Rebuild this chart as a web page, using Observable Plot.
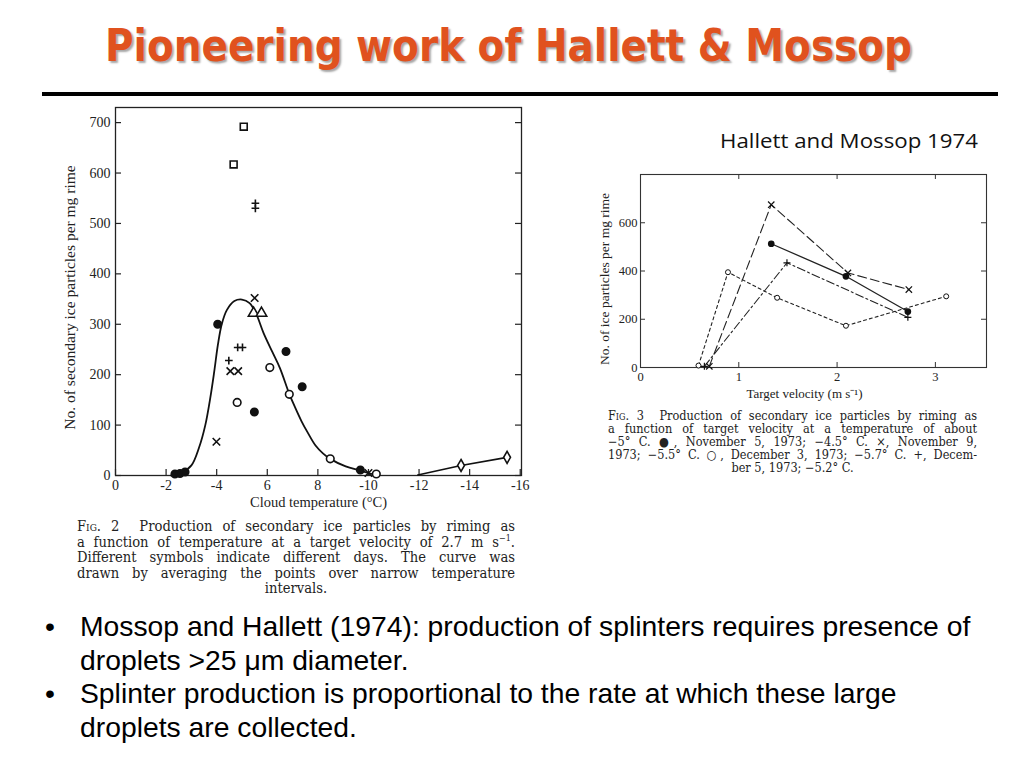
<!DOCTYPE html>
<html>
<head>
<meta charset="utf-8">
<script src="https://cdn.jsdelivr.net/npm/d3@7"></script>
<script src="https://cdn.jsdelivr.net/npm/@observablehq/plot@0.6"></script>
<style>
  html, body { margin: 0; padding: 0; background: #fff; }
  #page { position: relative; width: 1024px; height: 768px; overflow: hidden; background: #fff; }
  .abs { position: absolute; }
  #title { left: 105px; top: 18px; white-space: nowrap; font-family: "Comic Sans MS", "DejaVu Sans Condensed", "DejaVu Sans", sans-serif;
           font-weight: bold; font-size: 45px; color: #E0521E; text-shadow: 2px 2px 2px rgba(0,0,0,0.35); transform-origin: 0 0; line-height: 56px; }
  #rule { left: 42px; top: 92px; width: 956px; height: 4px; background: #000; }
  #ref { left: 720px; top: 126px; font-family: "Open Sans", sans-serif; font-size: 20.5px; white-space: nowrap; color: #111; transform-origin: 0 0; }
  .cap { font-family: "DejaVu Serif Condensed", "DejaVu Serif", serif; color: #222; }
  .cap div { text-align: justify; text-align-last: justify; white-space: nowrap; }
  .cap div.last { text-align: center; text-align-last: center; }
  .sc { font-variant: small-caps; }
  #cap2 { left: 77px; top: 518px; width: 438px; font-size: 14.6px; line-height: 15.5px; }
  #cap3 { left: 608px; top: 409px; width: 369px; font-size: 12.6px; line-height: 13px; }
  #bul { left: 45px; top: 610px; font-family: "Liberation Sans", Arial, sans-serif; font-size: 28.3px; line-height: 33.7px; color: #000; white-space: nowrap; }
  .item { position: relative; padding-left: 35px; }
  .item .dot { position: absolute; left: 0; top: 0; }
  #fig2 { left: 60px; top: 100px; }
  #fig3 { left: 590px; top: 165px; }
</style>
</head>
<body>
<div id="page">
  <div id="title" class="abs">Pioneering work of Hallett &amp; Mossop</div>
  <div id="rule" class="abs"></div>
  <div id="ref" class="abs">Hallett and Mossop 1974</div>
  <div id="fig2" class="abs"></div>
  <div id="fig3" class="abs"></div>
  <div id="cap2" class="abs cap">
    <div><span class="sc">Fig.</span> 2&nbsp; Production of secondary ice particles by riming as</div>
    <div>a function of temperature at a target velocity of 2.7 m s<sup style="font-size:9px;line-height:0">−1</sup>.</div>
    <div>Different symbols indicate different days. The curve was</div>
    <div>drawn by averaging the points over narrow temperature</div>
    <div class="last">intervals.</div>
  </div>
  <div id="cap3" class="abs cap">
    <div><span class="sc">Fig.</span> 3&nbsp; Production of secondary ice particles by riming as</div>
    <div>a function of target velocity at a temperature of about</div>
    <div>−5° C. ●, November 5, 1973; −4.5° C. ×, November 9,</div>
    <div>1973; −5.5° C. ○, December 3, 1973; −5.7° C. +, Decem-</div>
    <div class="last">ber 5, 1973; −5.2° C.</div>
  </div>
  <div id="bul" class="abs">
    <div class="item"><span class="dot">•</span>Mossop and Hallett (1974): production of splinters requires presence of<br>droplets &gt;25 μm diameter.</div>
    <div class="item"><span class="dot">•</span>Splinter production is proportional to the rate at which these large<br>droplets are collected.</div>
  </div>
</div>
<script>
// ---------- Fig. 2 data: x = |cloud temperature| (°C), y = secondary ice particles per mg rime ----------
const fig2TickValues = [0, 2, 4, 6, 8, 10, 12, 14, 16];
const fig2TickLabels = ["0", "-2", "-4", "6", "8", "-10", "-12", "-14", "-16"];
const fig2YTicks = [0, 100, 200, 300, 400, 500, 600, 700];

const filledT = [2.35, 2.55, 2.75, 4.04, 5.49, 6.74, 7.38, 9.68];
const filledN = [3, 4, 7, 300, 126, 246, 176, 11];
const openT = [4.81, 6.10, 6.87, 8.49, 10.31];
const openN = [145, 214, 161, 33, 3];
const crossT = [3.99, 4.54, 4.85, 5.50, 10.0];
const crossN = [67, 207, 207, 352, 5];
const plusT = [4.48, 4.83, 5.02, 5.53, 5.53];
const plusN = [228, 254, 254, 530, 540];
const squareT = [4.67, 5.07];
const squareN = [617, 692];
const triangleT = [5.46, 5.77];
const triangleN = [322, 322];
const diamondT = [13.66, 15.48];
const diamondN = [20, 36];
const curveT = [2.2, 2.6, 3.0, 3.3, 3.55, 3.75, 3.9, 4.05, 4.2, 4.4, 4.7, 5.0, 5.3, 5.55, 5.85, 6.2, 6.5, 6.87, 7.1, 7.35, 7.6, 7.9, 8.2, 8.49, 9.1, 9.65, 10.2];
const curveN = [0, 5, 20, 55, 100, 155, 205, 260, 300, 328, 346, 349, 342, 322, 283, 245, 213, 162, 135, 108, 85, 60, 44, 33, 18, 10, 2];
const tailT = [11.95, 13.66, 15.48];
const tailN = [1, 20, 36];

// ---------- Fig. 3 data: x = target velocity (m/s), y = ice particles per mg rime ----------
const fig3XTicks = [0, 1, 2, 3];
const fig3YTicks = [0, 200, 400, 600];
const nov5V = [1.33, 2.09, 2.72];
const nov5N = [513, 378, 232];
const nov9V = [0.70, 1.33, 2.11, 2.73];
const nov9N = [5, 675, 392, 323];
const dec3V = [0.59, 0.89, 1.39, 2.09, 3.11];
const dec3N = [8, 395, 289, 173, 295];
const dec5V = [0.65, 1.49, 2.72];
const dec5N = [5, 434, 208];

const zip = (xs, ys) => xs.map((x, i) => ({x, y: ys[i]}));

// ---------- Fig. 2 ----------
{
  const W = 470, H = 420, mL = 55, mR = 9, mT = 7, mB = 45;
  const fw = W - mL - mR, fh = H - mT - mB;
  const tk = 6;
  const sym = (xs, ys, symbol, extra) => Plot.dot(zip(xs, ys), {x: "x", y: "y", symbol, stroke: "#111", strokeWidth: 1.6, ...extra});
  const chart = Plot.plot({
    width: W, height: H, marginLeft: mL, marginRight: mR, marginTop: mT, marginBottom: mB,
    x: {domain: [0, 16.05]},
    y: {domain: [0, 730]},
    style: {fontFamily: "Liberation Serif, serif", fontSize: "14px", color: "#222", background: "transparent", overflow: "visible"},
    marks: [
      Plot.frame({stroke: "#222", strokeWidth: 1.3}),
      Plot.tickX(fig2TickValues, {x: d => d, insetTop: fh - tk, stroke: "#222", strokeWidth: 1.2}),
      Plot.tickY(fig2YTicks, {y: d => d, insetRight: fw - tk, stroke: "#222", strokeWidth: 1.2}),
      Plot.tickY(fig2YTicks, {y: d => d, insetLeft: fw - tk, stroke: "#222", strokeWidth: 1.2}),
      Plot.axisX(fig2TickValues, {tickSize: 0, tickPadding: 5, label: null, fontSize: 14,
        tickFormat: d => fig2TickLabels[fig2TickValues.indexOf(d)]}),
      Plot.axisY(fig2YTicks, {tickSize: 0, tickPadding: 5, label: null, fontSize: 14}),
      Plot.text(["Cloud temperature (°C)"], {text: d => d, frameAnchor: "bottom", lineAnchor: "middle", dy: 27, fontSize: 14.5}),
      Plot.text(["No. of secondary ice particles per mg rime"], {text: d => d, frameAnchor: "left", textAnchor: "middle", lineAnchor: "middle", dx: -45, dy: 6, rotate: -90, fontSize: 15.5}),
      Plot.line(zip(curveT, curveN), {x: "x", y: "y", curve: "catmull-rom", stroke: "#111", strokeWidth: 1.8}),
      Plot.line(zip(tailT, tailN), {x: "x", y: "y", stroke: "#111", strokeWidth: 1.6}),
      sym(filledT, filledN, "circle", {r: 3.7, fill: "#111"}),
      sym(openT, openN, "circle", {r: 3.8, fill: "white"}),
      sym(crossT, crossN, "times", {r: 3.5}),
      sym(plusT, plusN, "plus", {r: 2.6}),
      sym(squareT, squareN, "square2", {r: 4.4}),
      sym(triangleT, triangleN, "triangle", {r: 3.9, fill: "white"}),
      sym(diamondT, diamondN, "diamond", {r: 3.6, fill: "white"})
    ]
  });
  document.getElementById("fig2").appendChild(chart);
}

// ---------- Fig. 3 ----------
{
  const W = 410, H = 235, mL = 50, mR = 14, mT = 9, mB = 33;
  const fw = W - mL - mR, fh = H - mT - mB;
  const tk = 5;
  const inner = [1, 2, 3];
  const innerY = [200, 400, 600];
  const chart = Plot.plot({
    width: W, height: H, marginLeft: mL, marginRight: mR, marginTop: mT, marginBottom: mB,
    x: {domain: [0, 3.52]},
    y: {domain: [0, 800]},
    style: {fontFamily: "Liberation Serif, serif", fontSize: "12.5px", color: "#222", background: "transparent", overflow: "visible"},
    marks: [
      Plot.frame({stroke: "#333", strokeWidth: 1.1}),
      Plot.tickX(inner, {x: d => d, insetTop: fh - tk, stroke: "#333"}),
      Plot.tickX(inner, {x: d => d, insetBottom: fh - tk, stroke: "#333"}),
      Plot.tickY(innerY, {y: d => d, insetRight: fw - tk, stroke: "#333"}),
      Plot.tickY(innerY, {y: d => d, insetLeft: fw - tk, stroke: "#333"}),
      Plot.axisX(fig3XTicks, {tickSize: 0, tickPadding: 5, label: null, fontSize: 12.5}),
      Plot.axisY(fig3YTicks, {tickSize: 0, tickPadding: 3, label: null, fontSize: 12.5}),
      Plot.text(["Target velocity (m s⁻¹)"], {text: d => d, frameAnchor: "bottom", lineAnchor: "middle", dx: -9, dy: 26, fontSize: 13}),
      Plot.text(["No. of ice particles per mg rime"], {text: d => d, frameAnchor: "left", textAnchor: "middle", lineAnchor: "middle", dx: -36, dy: 8, rotate: -90, fontSize: 13.5}),
      Plot.line(zip(nov5V, nov5N), {x: "x", y: "y", stroke: "#222", strokeWidth: 1.3}),
      Plot.line(zip(nov9V, nov9N), {x: "x", y: "y", stroke: "#222", strokeWidth: 1.1, strokeDasharray: "9,4"}),
      Plot.line(zip(dec3V, dec3N), {x: "x", y: "y", stroke: "#222", strokeWidth: 1.1, strokeDasharray: "3,3"}),
      Plot.line(zip(dec5V, dec5N), {x: "x", y: "y", stroke: "#222", strokeWidth: 1.1, strokeDasharray: "8,3,2,3"}),
      Plot.dot(zip(nov5V, nov5N), {x: "x", y: "y", r: 2.6, fill: "#111", stroke: "#111"}),
      Plot.dot(zip(nov9V, nov9N), {x: "x", y: "y", r: 3, symbol: "times", stroke: "#111", strokeWidth: 1.2}),
      Plot.dot(zip(dec3V, dec3N), {x: "x", y: "y", r: 2.5, fill: "white", stroke: "#111", strokeWidth: 1}),
      Plot.dot(zip(dec5V, dec5N), {x: "x", y: "y", r: 2.4, symbol: "plus", stroke: "#111", strokeWidth: 1.2})
    ]
  });
  document.getElementById("fig3").appendChild(chart);
}

// fit the title and the reference note to the widths they have in the reference
{
  const fit = (id, target) => {
    const el = document.getElementById(id);
    const w = el.getBoundingClientRect().width;
    el.style.transform = `scaleX(${target / w})`;
  };
  fit("title", 807);
  fit("ref", 258);
}
</script>
</body>
</html>
